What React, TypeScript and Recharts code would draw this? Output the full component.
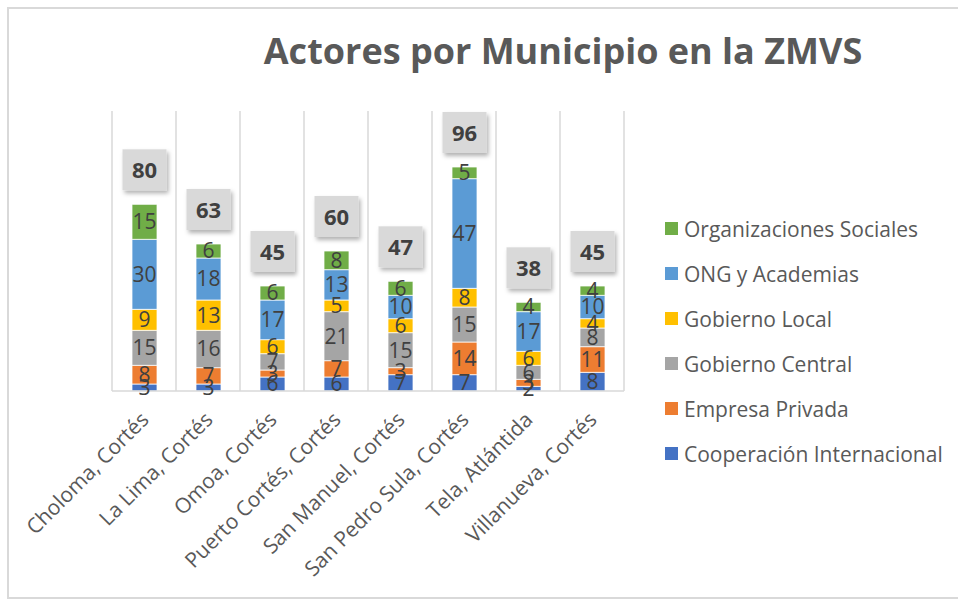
import React from "react";
import { BarChart, Bar, XAxis, YAxis, CartesianGrid, LabelList, Legend } from "recharts";

const municipios = [
  "Choloma, Cortés",
  "La Lima, Cortés",
  "Omoa, Cortés",
  "Puerto Cortés, Cortés",
  "San Manuel, Cortés",
  "San Pedro Sula, Cortés",
  "Tela, Atlántida",
  "Villanueva, Cortés",
];

const cooperacion = [3, 3, 6, 6, 7, 7, 2, 8];
const empresa = [8, 7, 3, 7, 3, 14, 3, 11];
const gobCentral = [15, 16, 7, 21, 15, 15, 6, 8];
const gobLocal = [9, 13, 6, 5, 6, 8, 6, 4];
const ong = [30, 18, 17, 13, 10, 47, 17, 10];
const orgSociales = [15, 6, 6, 8, 6, 5, 4, 4];

const series = [
  { key: "coop", name: "Cooperación Internacional", color: "#4472C4", values: cooperacion },
  { key: "emp", name: "Empresa Privada", color: "#ED7D31", values: empresa },
  { key: "gc", name: "Gobierno Central", color: "#A5A5A5", values: gobCentral },
  { key: "gl", name: "Gobierno Local", color: "#FFC000", values: gobLocal },
  { key: "ong", name: "ONG y Academias", color: "#5B9BD5", values: ong },
  { key: "org", name: "Organizaciones Sociales", color: "#70AD47", values: orgSociales },
];

const data = municipios.map((m, i) => {
  const row: any = { name: m };
  let total = 0;
  series.forEach((s) => {
    row[s.key] = s.values[i];
    total += s.values[i];
  });
  row.total = total;
  return row;
});

const FONT = "'Open Sans', sans-serif";

const TotalLabel = (props: any) => {
  const { x, y, width, value } = props;
  const cx = x + width / 2;
  const bw = 44;
  const bh = 41;
  const top = y - 14 - bh;
  return (
    <g>
      <rect x={cx - bw / 2} y={top} width={bw} height={bh} fill="#D9D9D9" filter="url(#boxShadow)" />
      <text x={cx} y={top + bh / 2 + 8} textAnchor="middle" fontSize={22} fontWeight="bold" fill="#404040" fontFamily={FONT}>
        {value}
      </text>
    </g>
  );
};

const AngledTick = (props: any) => {
  const { x, y, payload } = props;
  const ax = x + 6;
  const ay = y + 22;
  return (
    <text
      x={ax}
      y={ay}
      transform={`rotate(-45 ${ax} ${ay})`}
      textAnchor="end"
      fontSize={21}
      fill="#595959"
      fontFamily={FONT}
    >
      {payload.value}
    </text>
  );
};

const LegendContent = () => (
  <div style={{ fontFamily: FONT }}>
    {[...series].reverse().map((s) => (
      <div key={s.key} style={{ display: "flex", alignItems: "center", height: 45 }}>
        <span style={{ width: 13, height: 13, background: s.color, marginRight: 6 }} />
        <span style={{ fontSize: 21, color: "#595959", whiteSpace: "nowrap" }}>{s.name}</span>
      </div>
    ))}
  </div>
);

export default function App() {
  return (
    <div style={{ position: "relative", width: 958, height: 602, overflow: "hidden", background: "#fff" }}>
      <style>{`body{margin:0;overflow:hidden}`}</style>
      <div
        style={{
          position: "absolute",
          left: 7,
          top: 7,
          width: 980,
          height: 588,
          border: "2px solid #D9D9D9",
        }}
      />
      <div
        style={{
          position: "absolute",
          left: 213,
          top: 26,
          width: 700,
          textAlign: "center",
          fontFamily: FONT,
          fontWeight: "bold",
          fontSize: 36,
          color: "#595959",
          whiteSpace: "nowrap",
        }}
      >
        Actores por Municipio en la ZMVS
      </div>
      <div style={{ position: "absolute", left: 0, top: 0 }}>
        <BarChart
          width={958}
          height={602}
          data={data}
          margin={{ top: 111, right: 334, left: 112, bottom: 61 }}
          barSize={25}
        >
          <defs>
            <filter id="boxShadow" x="-20%" y="-20%" width="150%" height="150%">
              <feDropShadow dx={2} dy={3} stdDeviation={2} floodColor="#000" floodOpacity={0.3} />
            </filter>
          </defs>
          <CartesianGrid
            horizontal={false}
            stroke="#D9D9D9"
            strokeWidth={1.5}
            verticalCoordinatesGenerator={({ offset }: any) =>
              municipios.map((_, i) => offset.left + (i * offset.width) / municipios.length).concat(offset.left + offset.width)
            }
          />
          <XAxis
            dataKey="name"
            height={150}
            interval={0}
            tickLine={false}
            axisLine={{ stroke: "#D9D9D9", strokeWidth: 1.5 }}
            tick={<AngledTick />}
          />
          <YAxis hide domain={[0, 120]} />
          {series.map((s, idx) => (
            <Bar
              key={s.key}
              dataKey={s.key}
              name={s.name}
              stackId="a"
              fill={s.color}
              stroke="#fff"
              strokeWidth={0.75}
              isAnimationActive={false}
            >
              <LabelList dataKey={s.key} position="center" fontSize={21} fill="#404040" fontFamily={FONT} />
              {idx === series.length - 1 && <LabelList dataKey="total" content={<TotalLabel />} />}
            </Bar>
          ))}
          <Legend
            layout="vertical"
            align="center"
            verticalAlign="middle"
            content={<LegendContent />}
            wrapperStyle={{ left: 665, top: 206, width: 290, height: 270 }}
          />
        </BarChart>
      </div>
    </div>
  );
}
